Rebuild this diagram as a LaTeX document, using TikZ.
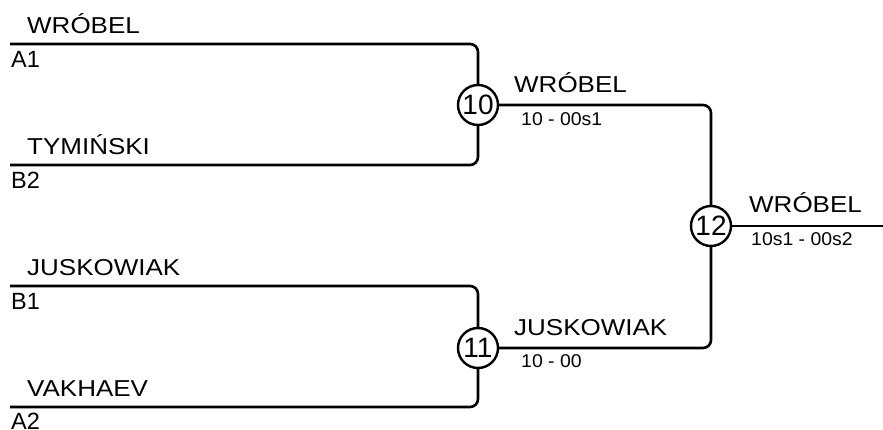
\documentclass[tikz,border=0pt]{standalone}
\usepackage{fontspec}
\setmainfont{Liberation Sans}
\newfontfamily\namefont[FakeStretch=1.13]{Liberation Sans}
\newfontfamily\scorefont[FakeStretch=1.05]{Liberation Sans}
\usetikzlibrary{calc}
\tikzset{
  bline/.style={line width=2.6pt,rounded corners=8pt},
  match/.style={circle,draw,line width=2.4pt,minimum size=40pt,inner sep=0pt,fill=white,font=\fontsize{28}{28}\selectfont},
  pname/.style={anchor=base west,inner sep=0pt,font=\namefont\fontsize{23}{23}\selectfont},
  pseed/.style={anchor=base west,inner sep=0pt,font=\fontsize{23.5}{23.5}\selectfont},
  pscore/.style={anchor=base west,inner sep=0pt,font=\scorefont\fontsize{18.5}{18.5}\selectfont},
}
\begin{document}
\begin{tikzpicture}[x=1pt,y=1pt]
  \useasboundingbox (0,0) rectangle (883,430);

  \coordinate (A1) at (10,386);
  \coordinate (B2) at (10,265);
  \coordinate (B1) at (10,144);
  \coordinate (A2) at (10,23);
  \coordinate (fin) at (883,204);

  \node[match] (m10) at (478,325) {10};
  \node[match] (m11) at (478,82) {11};
  \node[match] (m12) at (711,204) {12};

  \draw[bline] (A1) -| (m10);
  \draw[bline] (B2) -| (m10);
  \draw[bline] (B1) -| (m11);
  \draw[bline] (A2) -| (m11);
  \draw[bline] (m10) -| (m12);
  \draw[bline] (m11) -| (m12);
  \draw[bline] (m12) -- (fin);

  % first round
  \node[pname] (nA1) at ($(A1)+(17,10.5)$) {WRÓBEL};
  \node[pseed] (sA1) at ($(A1)+(1,-24)$) {A1};
  \node[pname] (nB2) at ($(B2)+(17,10.5)$) {TYMIŃSKI};
  \node[pseed] (sB2) at ($(B2)+(1,-24)$) {B2};
  \node[pname] (nB1) at ($(B1)+(17,10.5)$) {JUSKOWIAK};
  \node[pseed] (sB1) at ($(B1)+(1,-24)$) {B1};
  \node[pname] (nA2) at ($(A2)+(17,10.5)$) {VAKHAEV};
  \node[pseed] (sA2) at ($(A2)+(1,-23)$) {A2};

  % second round and final
  \node[pname] (w10) at ($(m10)+(36,12.5)$) {WRÓBEL};
  \node[pscore] (r10) at ($(m10)+(43,-21)$) {10 - 00s1};
  \node[pname] (w11) at ($(m11)+(36,12.5)$) {JUSKOWIAK};
  \node[pscore] (r11) at ($(m11)+(43,-20)$) {10 - 00};
  \node[pname] (w12) at ($(m12)+(38,13)$) {WRÓBEL};
  \node[pscore] (r12) at ($(m12)+(40,-20)$) {10s1 - 00s2};
\end{tikzpicture}
\end{document}
